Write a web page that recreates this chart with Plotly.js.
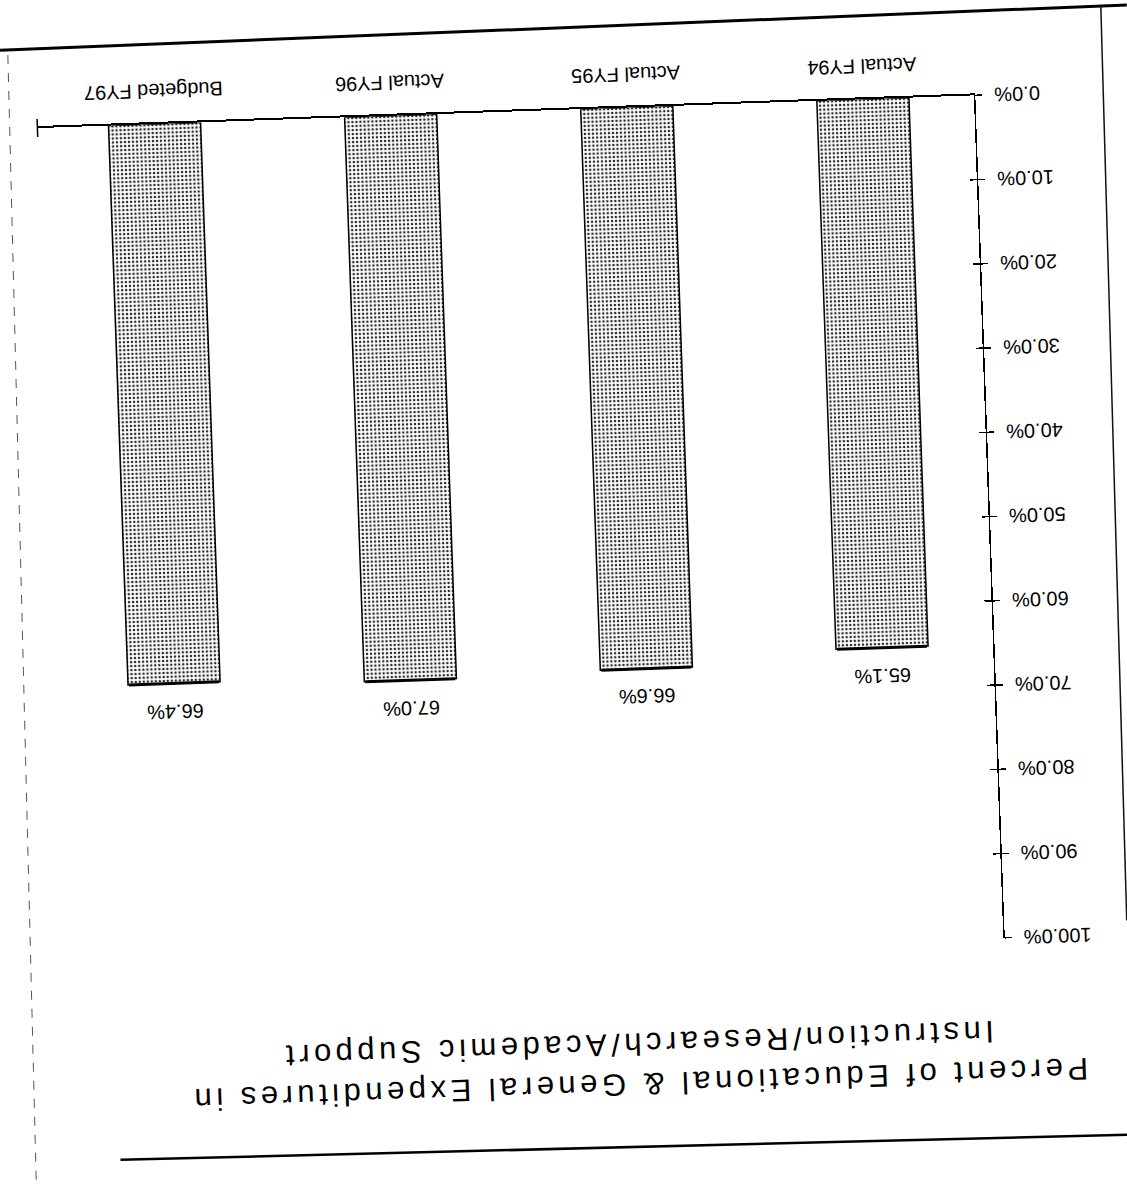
<!DOCTYPE html>
<html>
<head>
<meta charset="utf-8">
<script src="https://cdn.plot.ly/plotly-3.0.1.min.js"></script>
<style>
  html, body { margin: 0; padding: 0; background: #fff; overflow: hidden; width: 1127px; height: 1188px; }
  /* the sheet sits upside down and slightly skewed on the scanner glass */
  #chart {
    position: absolute; left: -40px; top: -40px;
    width: 1207px; height: 1268px;
    transform: rotate(178deg); transform-origin: 50% 50%;
  }
  #chart .gtitle { letter-spacing: 4.5px; }
</style>
</head>
<body>
<div id="chart"></div>
<script>
// Share of E&G expenditures going to instruction / research / academic support
const categories = ['Actual FY94', 'Actual FY95', 'Actual FY96', 'Budgeted FY97'];
const shares = [65.1, 66.6, 67.0, 66.4];
const shareLabels = ['65.1%', '66.6%', '67.0%', '66.4%'];
const tickVals = [0, 10, 20, 30, 40, 50, 60, 70, 80, 90, 100];
const tickText = ['0.0%', '10.0%', '20.0%', '30.0%', '40.0%', '50.0%', '60.0%', '70.0%', '80.0%', '90.0%', '100.0%'];
const titleLines = ['Percent of Educational & General Expenditures in', 'Instruction/Research/Academic Support'];

const W = 1207, H = 1268;
const M = { l: 176, r: 94, t: 275, b: 150 };
const plotW = W - M.l - M.r, plotH = H - M.t - M.b;
const FONT = 'Liberation Sans, Arial, Helvetica, sans-serif';

// pixel position on the sheet -> paper coordinates
function px(x, y) { return [(x - M.l) / plotW, (H - M.b - y) / plotH]; }
function line(a, b, style) {
  const p0 = px(a[0], a[1]), p1 = px(b[0], b[1]);
  return { type: 'line', xref: 'paper', yref: 'paper',
    x0: p0[0], y0: p0[1], x1: p1[0], y1: p1[1], line: style };
}

const bars = {
  type: 'bar',
  x: categories,
  y: shares,
  width: 0.39,
  marker: {
    color: '#ffffff',
    line: { color: '#000', width: 1.5 },
    pattern: { shape: '.', fgcolor: '#2a2a2a', bgcolor: '#ffffff', size: 4, solidity: 0.32, fillmode: 'replace' }
  },
  error_y: { type: 'data', array: [0, 0, 0, 0], visible: true, color: '#000', thickness: 3, width: 45 },
  hoverinfo: 'skip',
  showlegend: false
};

// companion axis so the ticks cross the value axis
const crossTicks = { type: 'bar', x: [], y: [], yaxis: 'y2', showlegend: false, hoverinfo: 'skip' };

const valueNotes = categories.map((c, i) => ({
  x: c, y: shares[i], text: shareLabels[i], yshift: 28, showarrow: false,
  font: { family: FONT, size: 20, color: '#000' }
}));

const layout = {
  width: W, height: H,
  margin: M,
  paper_bgcolor: '#fff', plot_bgcolor: '#fff',
  font: { family: FONT, color: '#000' },
  showlegend: false,
  title: {
    text: titleLines.join('<br>'),
    font: { family: FONT, size: 31, color: '#000' },
    xref: 'container', x: 545 / W, xanchor: 'center',
    yref: 'container', y: 1 - 152 / H, yanchor: 'middle'
  },
  xaxis: {
    type: 'category', range: [-0.47, 3.496],
    showline: true, linecolor: '#000', linewidth: 2,
    ticks: '', showgrid: false, zeroline: false,
    tickfont: { family: FONT, size: 20, color: '#000' },
    ticklabelstandoff: 14
  },
  yaxis: {
    range: [0, 100], tickvals: tickVals, ticktext: tickText,
    ticks: 'outside', ticklen: 7, tickwidth: 1.5, tickcolor: '#000',
    showline: true, linecolor: '#000', linewidth: 1.5,
    showgrid: false, zeroline: false,
    tickfont: { family: FONT, size: 20, color: '#000' },
    ticklabelstandoff: 8
  },
  yaxis2: {
    overlaying: 'y', anchor: 'x', side: 'left', range: [0, 100], tickvals: tickVals,
    ticks: 'inside', ticklen: 7, tickwidth: 1.5, tickcolor: '#000',
    showticklabels: false, showline: false, showgrid: false, zeroline: false
  },
  annotations: valueNotes,
  shapes: [
    // end tick on the category axis
    { type: 'line', xref: 'paper', yref: 'paper', x0: 1, x1: 1, y0: -9 / plotH, y1: 9 / plotH,
      line: { color: '#000', width: 1.5 } },
    // sheet edges
    line([20, 1203], [1148, 1197], { color: '#000', width: 3 }),
    line([46, 1204], [52, 288], { color: '#111', width: 1.5 }),
    line([1140, 1192], [1151, 59], { color: '#555', width: 1, dash: 'dash' }),
    line([1066, 84], [59, 74], { color: '#000', width: 2.5 })
  ]
};

Plotly.newPlot('chart', [bars, crossTicks], layout, { staticPlot: true, displayModeBar: false });
</script>
</body>
</html>
